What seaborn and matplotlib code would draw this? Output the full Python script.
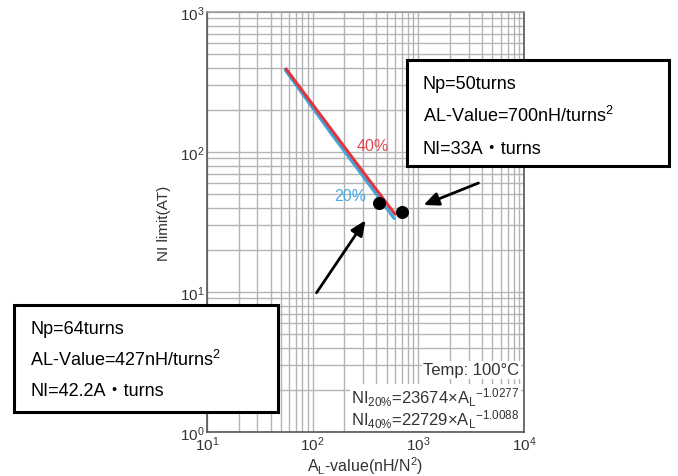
import matplotlib
matplotlib.use("Agg")
import matplotlib.pyplot as plt
import matplotlib.ticker as mticker
from matplotlib.patches import Rectangle
import seaborn as sns
import pandas as pd

# ---- data ----
al_40 = [56, 150, 300, 600]
ni_40 = [392, 145, 72, 36]
al_20 = [55, 150, 300, 590]
ni_20 = [385, 135, 67, 33.5]
pt_al = [427, 700]
pt_ni = [43, 37]

box1_lines = ["Np=50turns", "AL-Value=700nH/turns$^{\\mathregular{2}}$", "NI=33A・turns"]
box2_lines = ["Np=64turns", "AL-Value=427nH/turns$^{\\mathregular{2}}$", "NI=42.2A・turns"]

sns.set_style("white")
plt.rcParams['font.family'] = ['Liberation Sans', 'Noto Sans CJK JP', 'DejaVu Sans']
plt.rcParams['mathtext.fontset'] = 'custom'
plt.rcParams['mathtext.rm'] = 'Liberation Sans'
plt.rcParams['mathtext.it'] = 'Liberation Sans'

W, H = 678, 477
fig = plt.figure(figsize=(W / 100, H / 100), dpi=100)
ax = fig.add_axes([207 / W, 44 / H, (524 - 207) / W, (433 - 13) / H])

df40 = pd.DataFrame({"AL": al_40, "NI": ni_40})
df20 = pd.DataFrame({"AL": al_20, "NI": ni_20})
dpt = pd.DataFrame({"AL": pt_al, "NI": pt_ni})

sns.lineplot(data=df20, x="AL", y="NI", ax=ax, color="#42a5dc", lw=2.2, zorder=3)
sns.lineplot(data=df40, x="AL", y="NI", ax=ax, color="#e0353d", lw=2.2, zorder=4)
sns.scatterplot(data=dpt, x="AL", y="NI", ax=ax, color="black", s=75, zorder=5, edgecolor="black")

ax.set_xscale("log")
ax.set_yscale("log")
ax.set_xlim(10, 1e4)
ax.set_ylim(1, 1e3)
ax.xaxis.set_minor_locator(mticker.LogLocator(base=10, subs=range(2, 10)))
ax.yaxis.set_minor_locator(mticker.LogLocator(base=10, subs=range(2, 10)))
ax.grid(True, which="both", color="#b4b4b4", lw=1.0)
ax.tick_params(which="both", length=0, labelsize=11, labelcolor="#333333", pad=2)
for s in ax.spines.values():
    s.set_color("#555555")
    s.set_linewidth(1.2)
ax.spines["top"].set_color("#999999")

ax.set_xlabel("A$\\mathregular{_L}$-value(nH/N$\\mathregular{^2}$)", fontsize=11.5, color="#333333", labelpad=1)
ax.set_ylabel("NI limit(AT)", fontsize=11, color="#333333", labelpad=6)

ax.text(372, 112, "40%", color="#e0474f", fontsize=11.5, ha="center", va="center")
ax.text(225, 48.5, "20%", color="#4aa8e0", fontsize=11.5, ha="center", va="center")

ax.text(0.985, 0.148, "Temp: 100°C", transform=ax.transAxes, ha="right", va="center",
        fontsize=12, color="#333333",
        bbox=dict(facecolor="white", edgecolor="none", pad=1))
ax.text(0.985, 0.058,
        "NI$\\mathregular{_{20\\%}}$=23674×A$\\mathregular{_L}$$\\mathregular{^{-1.0277}}$\n"
        "NI$\\mathregular{_{40\\%}}$=22729×A$\\mathregular{_L}$$\\mathregular{^{-1.0088}}$",
        transform=ax.transAxes, ha="right", va="center", fontsize=12, color="#333333",
        linespacing=0.95, bbox=dict(facecolor="white", edgecolor="none", pad=1))


def fig_box(x0, y0, x1, y1, lines, tx, tys):
    rect = Rectangle((x0 / W, 1 - y1 / H), (x1 - x0) / W, (y1 - y0) / H,
                     transform=fig.transFigure, facecolor="white", edgecolor="black",
                     lw=2.2, zorder=10)
    fig.add_artist(rect)
    for line, ty in zip(lines, tys):
        t = fig.text(tx / W, 1 - ty / H, line, fontsize=13, ha="left", va="baseline", color="black")
        t.set_zorder(11)


fig_box(407, 61, 669, 167, box1_lines, 423, [89, 122, 154])
fig_box(14, 306, 278, 413, box2_lines, 30, [334, 366, 396])

arrowprops = dict(arrowstyle="-|>,head_length=0.9,head_width=0.4", color="black", lw=2)
ax.annotate("", xy=(421 / W, 1 - 207 / H), xytext=(481 / W, 1 - 183 / H),
            xycoords="figure fraction", textcoords="figure fraction", arrowprops=arrowprops)
ax.annotate("", xy=(367 / W, 1 - 219 / H), xytext=(315 / W, 1 - 296 / H),
            xycoords="figure fraction", textcoords="figure fraction", arrowprops=arrowprops)

fig.savefig("out.png", dpi=100)
